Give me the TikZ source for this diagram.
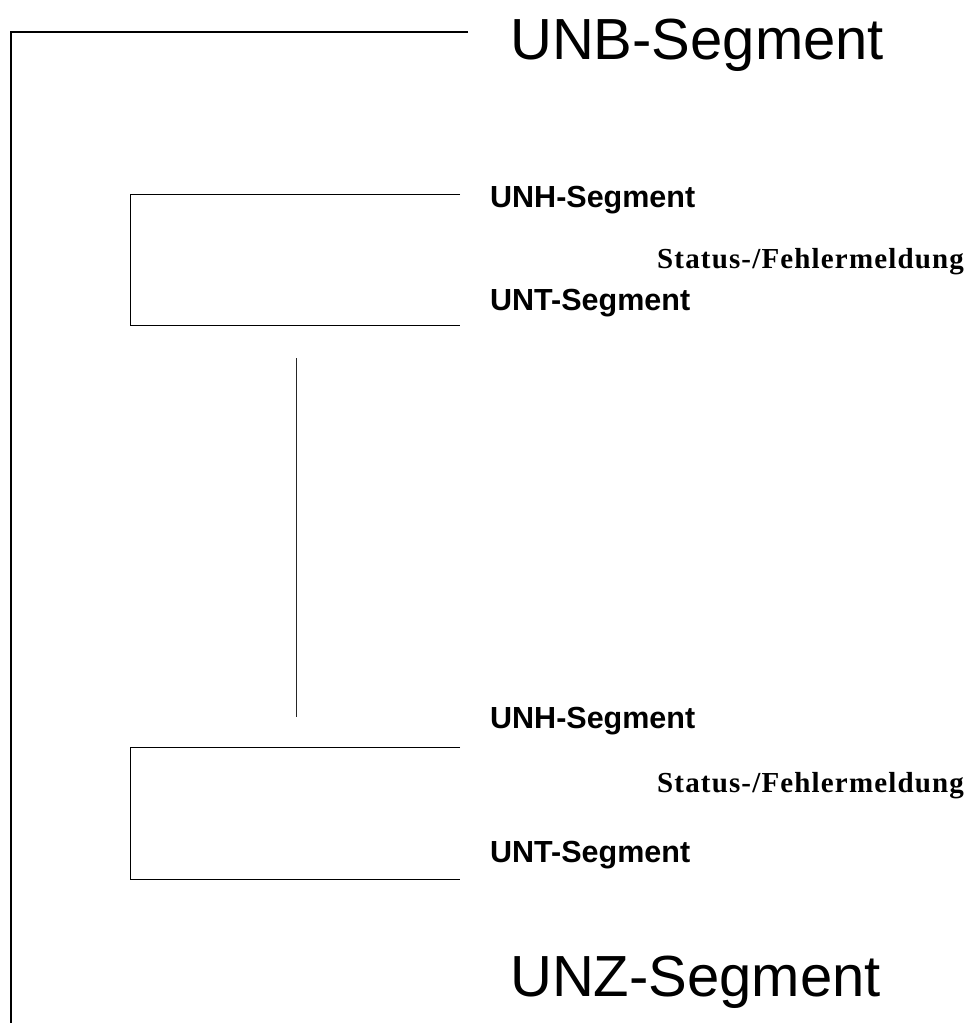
\documentclass[tikz,border=0pt]{standalone}
\usepackage{fontspec}
\setmainfont{Liberation Sans}
\newfontfamily\msgfont[LetterSpace=4]{Liberation Serif}
\usepackage{tikz}

\begin{document}
\begin{tikzpicture}[x=1pt,y=-1pt,
    big/.style={anchor=base west,inner sep=0pt,font=\fontsize{58}{60}\selectfont},
    seg/.style={anchor=base west,inner sep=0pt,font=\fontsize{30.5}{32}\selectfont\bfseries},
    msg/.style={anchor=base west,inner sep=0pt,font=\fontsize{29}{31}\msgfont\bfseries}]
  \useasboundingbox (0,0) rectangle (972,1023);

  % Uebertragungsdatei
  \node[big] (unb) at (510,59) {UNB-Segment};
  \node[big] (unz) at (510,996) {UNZ-Segment};
  \coordinate (oben) at (468,32);
  \coordinate (unten) at (11,1023);
  \draw[line width=2.8pt] (oben) -| (unten);

  % erste Nachricht
  \node[seg] (unh1) at (490,207) {UNH-Segment};
  \node[msg] (msg1) at (657,268) {Status-/Fehlermeldung};
  \node[seg] (unt1) at (490,310) {UNT-Segment};
  \draw[line width=1pt] (460,194) -- (130,194) -- (130,325) -- (460,325);

  % weitere Nachrichten
  \coordinate (p1) at (296,358);
  \coordinate (p2) at (296,717);
  \draw[line width=1pt,black!85] (p1) -- (p2);

  % letzte Nachricht
  \node[seg] (unh2) at (490,728) {UNH-Segment};
  \node[msg] (msg2) at (657,792) {Status-/Fehlermeldung};
  \node[seg] (unt2) at (490,862) {UNT-Segment};
  \draw[line width=1pt] (460,747) -- (130,747) -- (130,879) -- (460,879);
\end{tikzpicture}
\end{document}
